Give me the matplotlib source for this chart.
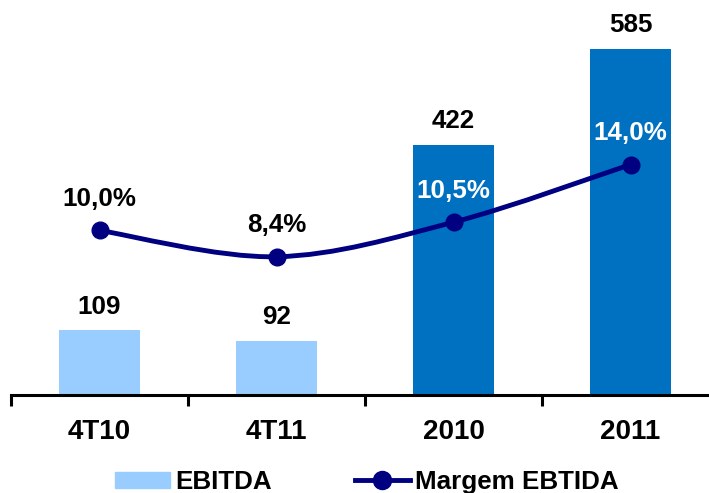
import matplotlib.pyplot as plt
import numpy as np
from matplotlib.path import Path
from matplotlib.patches import PathPatch, Patch
from matplotlib.lines import Line2D

plt.rcParams['font.family'] = ['Liberation Sans', 'DejaVu Sans']
plt.rcParams['font.weight'] = 'bold'

# Data
categories = ['4T10', '4T11', '2010', '2011']
ebitda = [109, 92, 422, 585]
margem = [10.0, 8.4, 10.5, 14.0]
margem_labels = ['10,0%', '8,4%', '10,5%', '14,0%']
bar_colors = ['#99CCFF', '#99CCFF', '#0070C0', '#0070C0']
pct_colors = ['black', 'black', 'white', 'white']

fig = plt.figure(figsize=(7.09, 4.93), dpi=100)
ax = fig.add_axes([11 / 709, 98 / 493, 708 / 709, 395 / 493])
x = np.arange(len(categories))

ax.bar(x, ebitda, width=0.455, color=bar_colors, zorder=2)
ax.set_xlim(-0.5, 3.5)
ax.set_ylim(0, 667)
for xi, v in zip(x, ebitda):
    ax.annotate(str(v), (xi, v), xytext=(0, 17), textcoords='offset points',
                ha='center', va='center', fontsize=18.7, fontweight='bold')

for s in ['left', 'top', 'right']:
    ax.spines[s].set_visible(False)
ax.spines['bottom'].set_linewidth(2.2)
ax.set_yticks([])
ax.set_xticks(x)
ax.set_xticklabels(categories, fontsize=20, fontweight='bold')
ax.tick_params(axis='x', which='major', length=0, pad=17)
ax.set_xticks(np.arange(-0.5, 4, 1), minor=True)
ax.tick_params(axis='x', which='minor', length=8, width=2.2)

# secondary axis for margin line
ax2 = ax.twinx()
ax2.set_ylim(0, 24)
ax2.set_yticks([])
for s in ax2.spines.values():
    s.set_visible(False)

# smooth curve (Catmull-Rom as cubic Bezier)
pts = np.column_stack([x, margem]).astype(float)
verts = [pts[0]]
codes = [Path.MOVETO]
n = len(pts)
for i in range(n - 1):
    p0 = pts[max(i - 1, 0)]
    p1 = pts[i]
    p2 = pts[i + 1]
    p3 = pts[min(i + 2, n - 1)]
    c1 = p1 + (p2 - p0) / 6
    c2 = p2 - (p3 - p1) / 6
    verts += [c1, c2, p2]
    codes += [Path.CURVE4] * 3
ax2.add_patch(PathPatch(Path(verts, codes), facecolor='none', edgecolor='#000080',
                        lw=3.5, zorder=3))
ax2.plot(x, margem, 'o', color='#000080', markersize=12, zorder=4)
for xi, v, lab, c in zip(x, margem, margem_labels, pct_colors):
    ax2.annotate(lab, (xi, v), xytext=(0, 22.5), textcoords='offset points',
                 ha='center', va='center', fontsize=18.7, fontweight='bold', color=c)

handles = [Patch(color='#99CCFF', label='EBITDA'),
           Line2D([], [], color='#000080', lw=3.5, marker='o', markersize=13,
                  label='Margem EBTIDA')]
fig.legend(handles=handles, loc='center', bbox_to_anchor=(367 / 709, 1 - 482 / 493),
           ncol=2, frameon=False, fontsize=18.7, handlelength=2.1, handleheight=0.58,
           handletextpad=0.22, columnspacing=3.2, borderpad=0)

fig.savefig('out.png', dpi=100)
